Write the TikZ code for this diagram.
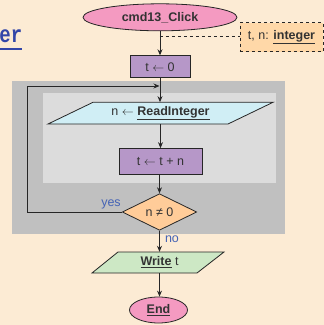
\documentclass[tikz,border=0pt]{standalone}
\usepackage{fontspec}
\setmainfont{Liberation Sans}
\newfontfamily\monofnt{Liberation Mono}
\usetikzlibrary{shapes.geometric,arrows.meta}
\definecolor{bg}{HTML}{FCEBD4}
\definecolor{pinkf}{HTML}{F49AC1}
\definecolor{purplef}{HTML}{B697C8}
\definecolor{bluef}{HTML}{D0EEF5}
\definecolor{orangef}{HTML}{FFCC99}
\definecolor{greenf}{HTML}{CDE8C5}
\definecolor{declf}{HTML}{FFD8A8}
\definecolor{outerg}{HTML}{C0C0C0}
\definecolor{innerg}{HTML}{DCDCDC}
\definecolor{txt}{HTML}{333333}
\definecolor{lbl}{HTML}{4563B5}
\definecolor{titl}{HTML}{3346A8}
\newcommand{\lar}{ $\leftarrow$ }
\tikzset{
  shapeline/.style={draw=black!85, line width=0.8pt},
  ell/.style={shapeline, ellipse, fill=pinkf, inner sep=0pt, text=txt, font=\fontsize{12.5}{14}\selectfont\bfseries},
  proc/.style={shapeline, rectangle, fill=purplef, inner sep=0pt, text=txt, font=\fontsize{12.5}{14}\selectfont},
  iobox/.style={rectangle, inner sep=0pt, text=txt, font=\fontsize{12.5}{14}\selectfont},
  decision/.style={shapeline, diamond, fill=orangef, inner sep=0pt, text=txt, font=\fontsize{12.5}{14}\selectfont},
  declbox/.style={draw=black!85, line width=0.8pt, dashed, fill=declf, inner sep=0pt, text=txt, font=\fontsize{12.5}{14}\selectfont},
  arr/.style={draw=black!85, line width=0.8pt, -{Stealth[length=6pt,width=5pt]}},
  conn/.style={draw=black!85, line width=0.8pt},
  lab/.style={text=lbl, font=\fontsize{12.5}{14}\selectfont, inner sep=0pt}
}
\begin{document}
\begin{tikzpicture}[x=1pt,y=-1pt]
\fill[bg] (0,0) rectangle (324,325);
\useasboundingbox (0,0) rectangle (324,325);
% partial title
\node[anchor=base east, inner sep=0pt, text=titl, font=\monofnt\fontsize{19}{20}\selectfont\bfseries] (title) at (22.5,42.5) {\scalebox{1}[1.25]{er}};
\draw[titl, line width=1.8pt] (0,49) -- (22,49);
% loop backgrounds
\fill[outerg] (12,81) rectangle (285,233.5);
\fill[innerg] (43,92.5) rectangle (276,183.3);
% start
\node[ell, minimum width=154pt, minimum height=27pt] (start) at (160,17.3) {cmd13\_Click};
% declaration
\node[declbox, minimum width=83pt, minimum height=29pt] (decl) at (281.5,37.2) {t, n: \textbf{\underline{integer}}};
% t <- 0
\node[proc, minimum width=60pt, minimum height=22pt] (t0) at (160,66.7) {t\lar 0};
% read parallelogram
\filldraw[shapeline, fill=bluef] (48,124) -- (93,102.3) -- (273,102.3) -- (228,124) -- cycle;
\node[iobox, minimum width=180pt, minimum height=21.7pt] (read) at (160.5,113.2) {n\lar\textbf{\underline{ReadInteger}}};
% t <- t + n
\node[proc, minimum width=83pt, minimum height=25.5pt] (tn) at (160.5,161.3) {t\lar t + n};
% decision
\node[decision, minimum width=74.5pt, minimum height=29.5pt] (dec) at (159.5,212) {n ≠ 0};
% write parallelogram
\filldraw[shapeline, fill=greenf] (92,273) -- (118,252) -- (224,252) -- (197,273) -- cycle;
\node[iobox, minimum width=106pt, minimum height=21pt] (write) at (159.5,262.5) {\textbf{\underline{Write}} t};
% end
\node[ell, minimum width=58pt, minimum height=26pt] (end) at (158.5,310) {\underline{End}};
% connectors
\coordinate (dj) at (160,36);
\draw[conn, dashed] (dj) -- (dj -| decl.west);
\draw[arr] (start.south) -- (t0.north);
\draw[arr] (t0.south) -- (t0.south |- read.north);
\draw[arr] (tn.north |- read.south) -- (tn.north);
\draw[arr] (tn.south) -- (tn.south -| dec.north) -- (dec.north);
\draw[arr] (dec.south) -- (write.north);
\draw[arr] (write.south) -- (write.south |- end.north);
\coordinate (loopin) at (159.5,86);
\coordinate (loopc) at (27,212);
\draw[arr] (dec.west) -- (loopc) |- (loopin);
\node[lab] (yes) at (111,204.5) {yes};
\node[lab] (no) at (172,239.5) {no};
\end{tikzpicture}
\end{document}
